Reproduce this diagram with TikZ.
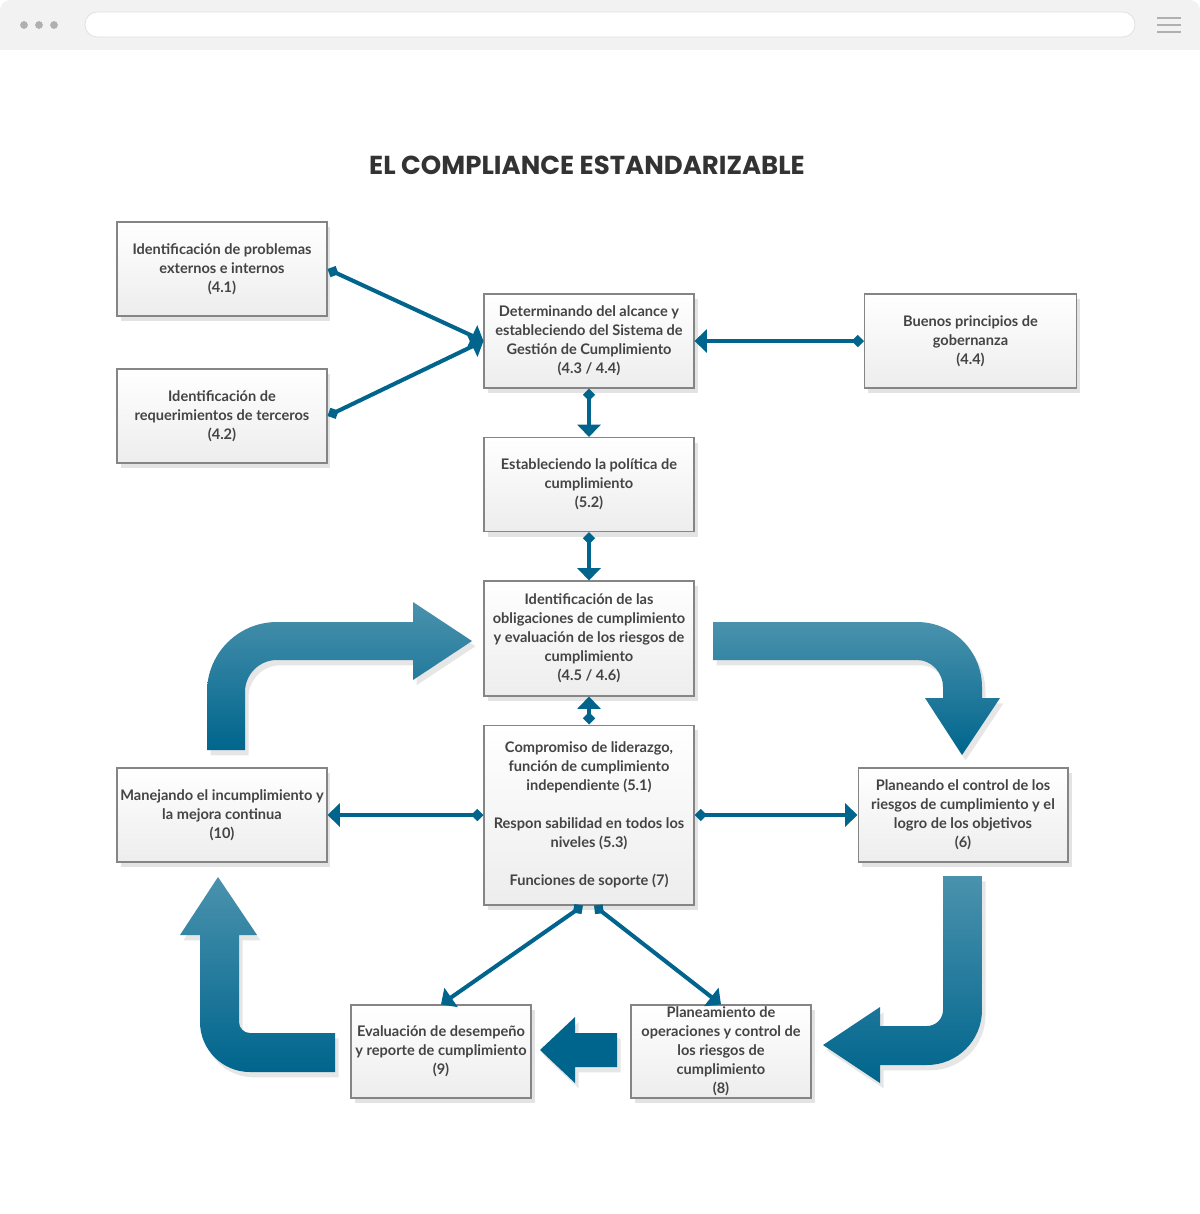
\documentclass[tikz,border=0pt]{standalone}
\usepackage{fontspec}
\newfontfamily\boxfont{Lato}
\newfontfamily\titlefont{Poppins}
\usetikzlibrary{arrows.meta, shadows, calc, positioning}
\definecolor{connblue}{HTML}{00648C}
\definecolor{arrowtop}{HTML}{4A92AD}
\definecolor{arrowbot}{HTML}{00658D}
\definecolor{boxline}{HTML}{858585}
\definecolor{boxbot}{HTML}{EDEDED}
\definecolor{boxtext}{HTML}{444444}
\definecolor{chrome}{HTML}{F2F2F2}
\definecolor{chromedot}{HTML}{B0B0B0}
\definecolor{titlegray}{HTML}{333333}

\begin{document}
\begin{tikzpicture}[x=0.02cm, y=-0.02cm,
    box/.style={draw=boxline, line width=0.6pt, top color=white, bottom color=boxbot,
      align=center, text=boxtext, font=\boxfont\bfseries\fontsize{8.3}{10.8}\selectfont,
      minimum width=4.2cm, minimum height=1.88cm, inner sep=0pt,
      drop shadow={shadow xshift=2pt, shadow yshift=-3pt, opacity=0.22}},
    conn/.style={draw=connblue, line width=2.3pt,
      {Diamond[length=7pt,width=7pt]}-{Triangle[length=7pt,width=13pt]}},
    bigarrow/.style={top color=arrowtop, bottom color=arrowbot,
      drop shadow={shadow xshift=2pt, shadow yshift=-3pt, opacity=0.2}}]

  \useasboundingbox (0,0) rectangle (1200,1214);

  % browser bar
  \fill[chrome, rounded corners=6pt] (0,0) rectangle (1200,40);
  \fill[chrome] (0,20) rectangle (1200,50);
  \foreach \dx in {24,39,54}
    \fill[chromedot] (\dx,25) circle (2.2pt);
  \draw[fill=white, draw=gray!25, rounded corners=7pt] (85,12) rectangle (1135,37);
  \foreach \hy in {18,25,32}
    \draw[chromedot, line width=1.7pt] (1157,\hy) -- (1181,\hy);

  % title
  \node[font=\titlefont\bfseries\fontsize{14.8}{17}\selectfont, text=titlegray] (title) at (587,165) {EL COMPLIANCE ESTANDARIZABLE};

  % boxes
  \node[box] (b41) at (222,269) {Identificación de problemas\\externos e internos\\(4.1)};
  \node[box] (b42) at (222,416) {Identificación de\\requerimientos de terceros\\(4.2)};
  \node[box] (b43) at (589,341) {Determinando del alcance y\\estableciendo del Sistema de\\Gestión de Cumplimiento\\(4.3 / 4.4)};
  \node[box, minimum width=4.24cm] (b44) at (970.5,341) {Buenos principios de\\gobernanza\\(4.4)};
  \node[box] (b52) at (589,484.5) {Estableciendo la política de\\cumplimiento\\(5.2)};
  \node[box, minimum height=2.3cm] (b45) at (589,638.5) {Identificación de las\\obligaciones de cumplimiento\\y evaluación de los riesgos de\\cumplimiento\\(4.5 / 4.6)};
  \node[box, minimum height=3.6cm] (b51) at (589,815) {Compromiso de liderazgo,\\función de cumplimiento\\independiente (5.1)\\[10.8pt]Respon sabilidad en todos los\\niveles (5.3)\\[10.8pt]Funciones de soporte (7)};
  \node[box] (b10) at (222,815) {Manejando el incumplimiento y\\la mejora continua\\(10)};
  \node[box] (b6) at (963,815) {Planeando el control de los\\riesgos de cumplimiento y el\\logro de los objetivos\\(6)};
  \node[box, minimum width=3.6cm, minimum height=1.86cm] (b9) at (441,1051.5) {Evaluación de desempeño\\y reporte de cumplimiento\\(9)};
  \node[box, minimum width=3.6cm, minimum height=1.86cm] (b8) at (721,1051.5) {Planeamiento de\\operaciones y control de\\los riesgos de\\cumplimiento\\(8)};

  % connectors
  \draw[conn] (b41.east) -- (b43.west);
  \draw[conn] (b42.east) -- (b43.west);
  \draw[conn] (b44.west) -- (b43.east);
  \draw[conn] (b43.south) -- (b52.north);
  \draw[conn] (b52.south) -- (b45.north);
  \draw[conn] (b51.north) -- (b45.south);
  \draw[conn] (b51.west) -- (b10.east);
  \draw[conn] (b51.east) -- (b6.west);
  \draw[conn] ($(b51.south)+(-6,0)$) -- (b9.north);
  \draw[conn] ($(b51.south)+(5,0)$) -- (b8.north);

  % cycle arrows
  \shade[bigarrow] (207,750) -- (207,692) .. controls (207,653.3) and (238.3,622) .. (277,622)
    -- (413,622) -- (413,602) -- (472,641) -- (413,680) -- (413,660) -- (277,660)
    .. controls (259.3,660) and (245,674.3) .. (245,692) -- (245,750) -- cycle;
  \shade[bigarrow] (713,622) -- (917,622) .. controls (952.9,622) and (982,651.1) .. (982,687)
    -- (982,698) -- (1000,698) -- (962,755) -- (925,698) -- (943,698) -- (943,687)
    .. controls (943,672.6) and (931.4,660) .. (917,660) -- (713,660) -- cycle;
  \shade[bigarrow] (943,876) -- (982,876) -- (982,1010) .. controls (982,1040.4) and (957.4,1065) .. (927,1065)
    -- (880,1065) -- (880,1083) -- (823,1045) -- (880,1007) -- (880,1026) -- (927,1026)
    .. controls (935.8,1026) and (943,1018.8) .. (943,1010) -- cycle;
  \shade[bigarrow] (335,1033) -- (250,1033) .. controls (243.9,1033) and (239,1028.1) .. (239,1022)
    -- (239,935) -- (257,935) -- (218,877) -- (180,935) -- (200,935) -- (200,1022)
    .. controls (200,1049.6) and (222.4,1072) .. (250,1072) -- (335,1072) -- cycle;
  \fill[arrowbot, drop shadow={shadow xshift=2pt, shadow yshift=-3pt, opacity=0.2}]
    (617,1033) -- (575,1033) -- (575,1017) -- (540,1050) -- (575,1083) -- (575,1067) -- (617,1067) -- cycle;

\end{tikzpicture}
\end{document}
